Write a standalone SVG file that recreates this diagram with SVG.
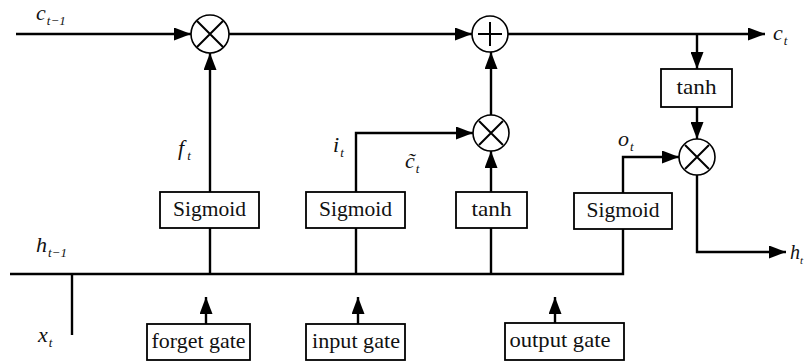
<svg xmlns="http://www.w3.org/2000/svg" width="807" height="362" viewBox="0 0 807 362">
  <style>
    .wire { fill: none; stroke: #000; stroke-width: 2.4; }
    .arr { marker-end: url(#head); }
    .box { fill: #fff; stroke: #000; stroke-width: 1.8; }
    .op { fill: #fff; stroke: #000; stroke-width: 1.6; }
    .sym { stroke: #000; stroke-width: 2; fill: none; }
    text { font-family: "Liberation Serif", "DejaVu Serif", serif; fill: #111; }
    .lbl { font-size: 21px; text-anchor: middle; }
    .var { font-style: italic; font-size: 22px; }
    .sub { font-size: 13px; }
  </style>
  <defs>
    <marker id="head" markerUnits="userSpaceOnUse" markerWidth="17" markerHeight="13" refX="17" refY="6.5" orient="auto">
      <path d="M0,0 L17,6.5 L0,13 z" fill="#000"/>
    </marker>
  </defs>

  <!-- connectors -->
  <g id="connectors">
    <path class="wire arr" d="M16,34 H191"/>
    <path class="wire arr" d="M229,34 H472"/>
    <path class="wire arr" d="M508,34 H765"/>
    <path class="wire arr" d="M697,34 V69"/>
    <path class="wire arr" d="M697,107 V139"/>
    <path class="wire arr" d="M210,192 V53"/>
    <path class="wire arr" d="M356,192 V133 H473"/>
    <path class="wire arr" d="M491,192 V151"/>
    <path class="wire arr" d="M491,115 V52"/>
    <path class="wire arr" d="M623,193 V157 H679"/>
    <path class="wire arr" d="M697,175 V252 H786"/>
    <path class="wire" d="M10,274 H623 V229"/>
    <path class="wire" d="M210,228 V274"/>
    <path class="wire" d="M356,228 V274"/>
    <path class="wire" d="M491,228 V274"/>
    <path class="wire" d="M72,274 V335"/>
    <path class="wire arr" d="M206,324 V297"/>
    <path class="wire arr" d="M358,324 V297"/>
    <path class="wire arr" d="M555,323 V297"/>
  </g>

  <!-- pointwise operators -->
  <g id="mul-forget">
    <circle class="op" cx="210" cy="34" r="19"/>
    <path class="sym" d="M197,21 L223,47 M223,21 L197,47"/>
  </g>
  <g id="add-cell">
    <circle class="op" cx="490" cy="34" r="18"/>
    <path class="sym" d="M490,22 V46 M478,34 H502"/>
  </g>
  <g id="mul-input">
    <circle class="op" cx="491" cy="133" r="18"/>
    <path class="sym" d="M479,121 L503,145 M503,121 L479,145"/>
  </g>
  <g id="mul-output">
    <circle class="op" cx="697" cy="157" r="18"/>
    <path class="sym" d="M685,145 L709,169 M709,145 L685,169"/>
  </g>

  <!-- activation blocks -->
  <g id="sigmoid-forget">
    <rect class="box" x="160" y="192" width="99" height="36"/>
    <text class="lbl" x="209.5" y="216" textLength="73" lengthAdjust="spacingAndGlyphs">Sigmoid</text>
  </g>
  <g id="sigmoid-input">
    <rect class="box" x="306" y="192" width="99" height="36"/>
    <text class="lbl" x="355.5" y="216" textLength="73" lengthAdjust="spacingAndGlyphs">Sigmoid</text>
  </g>
  <g id="tanh-input">
    <rect class="box" x="456" y="192" width="71" height="36"/>
    <text class="lbl" x="491.5" y="216" textLength="40" lengthAdjust="spacingAndGlyphs">tanh</text>
  </g>
  <g id="sigmoid-output">
    <rect class="box" x="574" y="193" width="98" height="36"/>
    <text class="lbl" x="623" y="217" textLength="73" lengthAdjust="spacingAndGlyphs">Sigmoid</text>
  </g>
  <g id="tanh-cell">
    <rect class="box" x="661" y="69" width="71" height="38"/>
    <text class="lbl" x="696.5" y="94" textLength="40" lengthAdjust="spacingAndGlyphs">tanh</text>
  </g>

  <!-- gate inputs -->
  <g id="forget-gate">
    <rect class="box" x="147" y="324" width="103" height="36"/>
    <text class="lbl" x="198.5" y="348" textLength="94" lengthAdjust="spacingAndGlyphs">forget gate</text>
  </g>
  <g id="input-gate">
    <rect class="box" x="306" y="324" width="99" height="36"/>
    <text class="lbl" x="356" y="348" textLength="88" lengthAdjust="spacingAndGlyphs">input gate</text>
  </g>
  <g id="output-gate">
    <rect class="box" x="505" y="323" width="119" height="37"/>
    <text class="lbl" x="560" y="347" textLength="101" lengthAdjust="spacingAndGlyphs">output gate</text>
  </g>

  <!-- variable labels -->
  <g id="labels">
    <text class="var" x="36" y="20">c<tspan class="sub" dx="1" dy="5">t−1</tspan></text>
    <text class="var" x="773" y="40">c<tspan class="sub" dx="1" dy="5">t</tspan></text>
    <text class="var" x="178" y="155">f<tspan class="sub" dx="3" dy="5">t</tspan></text>
    <text class="var" x="333" y="152">i<tspan class="sub" dx="1" dy="5">t</tspan></text>
    <text class="var" x="405" y="168">c̃<tspan class="sub" dx="1" dy="5">t</tspan></text>
    <text class="var" x="618" y="146">o<tspan class="sub" dx="1" dy="5">t</tspan></text>
    <text class="var" x="36" y="252">h<tspan class="sub" dx="1" dy="5">t−1</tspan></text>
    <text class="var" x="38" y="342">x<tspan class="sub" dx="1" dy="5">t</tspan></text>
    <text class="var" x="790" y="259" style="font-size:20px">h<tspan class="sub" dx="0" dy="5" style="font-size:11px">t</tspan></text>
  </g>
</svg>
